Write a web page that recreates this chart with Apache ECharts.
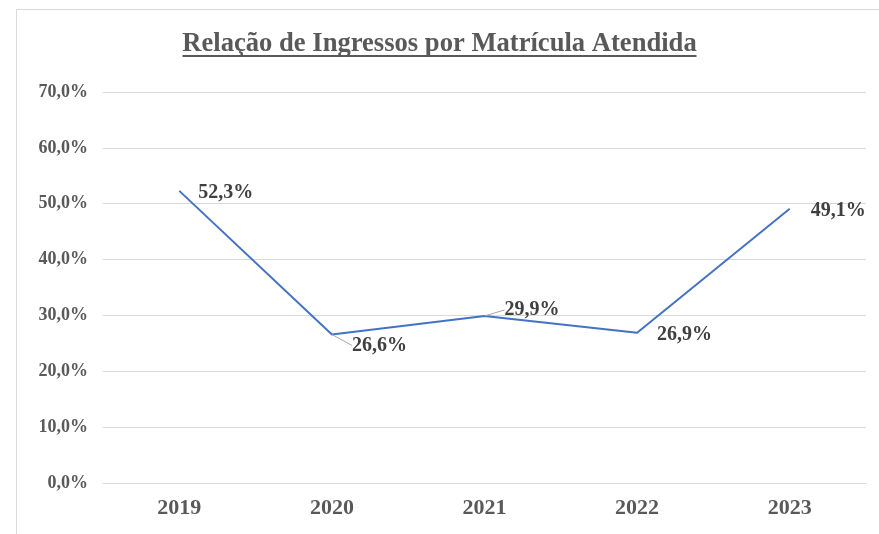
<!DOCTYPE html>
<html>
<head>
<meta charset="utf-8">
<title>Relação de Ingressos por Matrícula Atendida</title>
<script src="https://cdn.jsdelivr.net/npm/echarts@6/dist/echarts.min.js"></script>
<style>
  html, body { margin: 0; padding: 0; background: #fff; }
  #chart { width: 879px; height: 534px; }
</style>
</head>
<body>
<div id="chart"></div>
<script>
// dados
var anos = ['2019', '2020', '2021', '2022', '2023']
var relacao = [52.3, 26.6, 29.9, 26.9, 49.1]
// deslocamento dos rótulos (só 2020 e 2021 têm linha de chamada)
var rotuloDesloc = [[-1, 2], [0, 11], [0, -6], [0, 2], [1, 2]]
var comLinha = [false, true, true, false, false]

var fonte = '"Liberation Serif", "Times New Roman", serif'
var pct = function (v) { return v.toFixed(1).replace('.', ',') + '%' }

var chart = echarts.init(document.getElementById('chart'))
chart.setOption({
  animation: false,
  title: {
    text: 'Relação de Ingressos por Matrícula Atendida',
    left: 'center',
    top: 26,
    textStyle: { fontFamily: fonte, fontSize: 26.6, fontWeight: 'bold', color: '#595959' }
  },
  graphic: [
    // moldura do gráfico
    { type: 'rect', shape: { x: 16.5, y: 9.5, width: 900, height: 600 },
      style: { fill: 'none', stroke: '#d9d9d9', lineWidth: 1 }, silent: true },
    // sublinhado do título
    { type: 'rect', left: 'center', top: 55, shape: { width: 514, height: 2 },
      style: { fill: '#595959' }, silent: true }
  ],
  grid: { left: 103, right: 13, top: 92, bottom: 51 },
  xAxis: {
    type: 'category',
    data: anos,
    axisLine: { lineStyle: { color: '#d9d9d9' } },
    axisTick: { show: false },
    axisLabel: { fontFamily: fonte, fontSize: 22, fontWeight: 'bold', color: '#595959', margin: 14 }
  },
  yAxis: {
    type: 'value',
    min: 0,
    max: 70,
    interval: 10,
    axisLine: { show: false },
    axisTick: { show: false },
    splitLine: { lineStyle: { color: '#d9d9d9' } },
    axisLabel: { fontFamily: fonte, fontSize: 18, fontWeight: 'bold', color: '#595959', margin: 15,
      formatter: pct }
  },
  series: [{
    type: 'line',
    data: relacao.map(function (v, i) {
      return { value: v, labelLine: { show: comLinha[i] } }
    }),
    symbol: 'circle',
    symbolSize: 0,
    showSymbol: true,
    lineStyle: { color: '#4472C4', width: 2 },
    itemStyle: { color: '#4472C4' },
    label: {
      show: true,
      position: 'right',
      distance: 20,
      fontFamily: fonte,
      fontSize: 20,
      fontWeight: 'bold',
      color: '#404040',
      formatter: function (p) { return pct(p.value) }
    },
    labelLine: { lineStyle: { color: '#a6a6a6', width: 1 } },
    labelLayout: function (p) {
      return { dx: rotuloDesloc[p.dataIndex][0], dy: rotuloDesloc[p.dataIndex][1] }
    }
  }]
})
</script>
</body>
</html>
